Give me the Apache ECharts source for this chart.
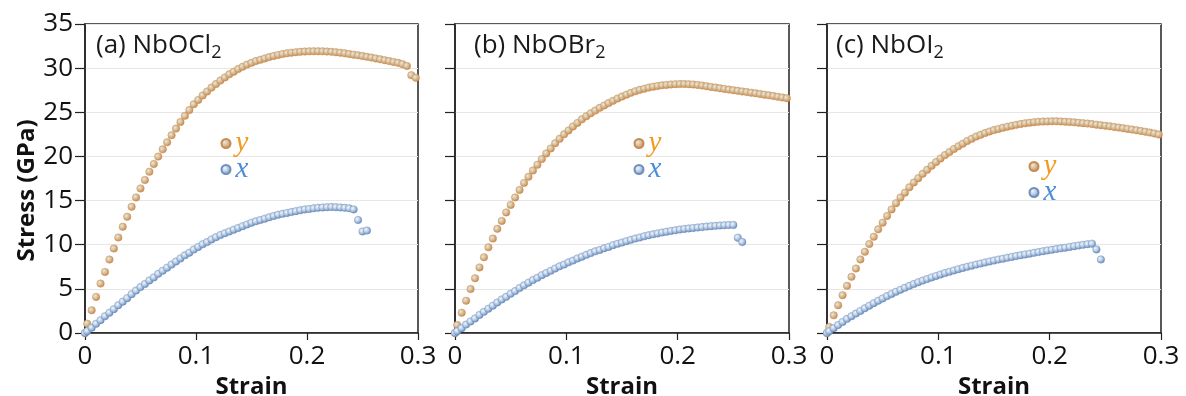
<!DOCTYPE html>
<html>
<head>
<meta charset="utf-8">
<script src="https://cdn.jsdelivr.net/npm/echarts@6/dist/echarts.min.js"></script>
<style>
html,body{margin:0;padding:0;background:#fff;}
#chart{width:1186px;height:396px;}
</style>
</head>
<body>
<div id="chart"></div>
<script>
// ---- data ----
const strain = [0, 0.002, 0.006, 0.010, 0.014, 0.018, 0.022, 0.026, 0.030, 0.034,
  0.038, 0.042, 0.046, 0.050, 0.054, 0.058, 0.062, 0.066, 0.070, 0.074,
  0.078, 0.082, 0.086, 0.090, 0.094, 0.098, 0.102, 0.106, 0.110, 0.114,
  0.118, 0.122, 0.126, 0.130, 0.134, 0.138, 0.142, 0.146, 0.150, 0.154,
  0.158, 0.162, 0.166, 0.170, 0.174, 0.178, 0.182, 0.186, 0.190, 0.194,
  0.198, 0.202, 0.206, 0.210, 0.214, 0.218, 0.222, 0.226, 0.230, 0.234,
  0.238, 0.242, 0.246, 0.250, 0.254, 0.258, 0.262, 0.266, 0.270, 0.274,
  0.278, 0.282, 0.286, 0.290, 0.294, 0.298];

// (a) NbOCl2
const aY = [0, 1.06, 2.57, 4.09, 5.6, 6.92, 8.32, 9.57, 10.82, 12.03,
  13.17, 14.3, 15.36, 16.38, 17.33, 18.27, 19.14, 19.98, 20.8, 21.6,
  22.4, 23.15, 23.9, 24.6, 25.25, 25.9, 26.4, 26.9, 27.35, 27.8,
  28.2, 28.6, 28.95, 29.3, 29.6, 29.9, 30.15, 30.4, 30.6, 30.8,
  30.95, 31.1, 31.25, 31.38, 31.5, 31.6, 31.68, 31.75, 31.8, 31.85,
  31.88, 31.9, 31.91, 31.91, 31.9, 31.88, 31.85, 31.8, 31.75, 31.68,
  31.6, 31.53, 31.45, 31.37, 31.28, 31.2, 31.1, 31.0, 30.9, 30.8,
  30.7, 30.6, 30.45, 30.25, 29.2, 28.9];
const aX = [0, 0.2, 0.6, 1.05, 1.45, 1.9, 2.3, 2.7, 3.15, 3.55,
  3.95, 4.4, 4.8, 5.2, 5.55, 5.95, 6.3, 6.7, 7.05, 7.4,
  7.75, 8.1, 8.45, 8.8, 9.1, 9.45, 9.75, 10.05, 10.3, 10.6,
  10.85, 11.1, 11.3, 11.5, 11.7, 11.9, 12.1, 12.3, 12.5, 12.65,
  12.8, 12.95, 13.1, 13.25, 13.4, 13.5, 13.6, 13.7, 13.8, 13.9,
  14.0, 14.05, 14.12, 14.18, 14.22, 14.25, 14.27, 14.25, 14.22, 14.18,
  14.12, 14.0, 12.8, 11.5, 11.6];

// (b) NbOBr2
const bY = [0, 0.9, 2.3, 3.66, 4.98, 6.2, 7.43, 8.57, 9.7, 10.7,
  11.8, 12.7, 13.66, 14.5, 15.36, 16.2, 17.0, 17.7, 18.4, 19.06,
  19.7, 20.34, 20.9, 21.5, 22.0, 22.5, 22.95, 23.4, 23.8, 24.2,
  24.55, 24.9, 25.2, 25.5, 25.78, 26.04, 26.3, 26.55, 26.78, 27.0,
  27.2, 27.38, 27.54, 27.68, 27.8, 27.9, 27.98, 28.05, 28.1, 28.15,
  28.18, 28.2, 28.2, 28.18, 28.15, 28.1, 28.03, 27.95, 27.87, 27.8,
  27.72, 27.65, 27.57, 27.5, 27.43, 27.36, 27.29, 27.22, 27.15, 27.07,
  27.0, 26.92, 26.84, 26.76, 26.68, 26.6];
const bX = [0, 0.2, 0.55, 0.95, 1.3, 1.65, 2.05, 2.4, 2.75, 3.1,
  3.45, 3.8, 4.1, 4.45, 4.75, 5.1, 5.4, 5.7, 6.0, 6.25,
  6.55, 6.8, 7.05, 7.3, 7.55, 7.75, 8.0, 8.2, 8.45, 8.65,
  8.85, 9.05, 9.25, 9.4, 9.6, 9.75, 9.95, 10.1, 10.25, 10.4,
  10.55, 10.7, 10.82, 10.95, 11.07, 11.18, 11.28, 11.38, 11.47, 11.56,
  11.64, 11.72, 11.79, 11.85, 11.9, 11.95, 12.0, 12.05, 12.1, 12.14,
  12.18, 12.21, 12.23, 12.24, 10.8, 10.3];

// (c) NbOI2
const cY = [0, 0.68, 2.0, 3.14, 4.28, 5.34, 6.36, 7.3, 8.33, 9.2,
  10.08, 10.9, 11.74, 12.5, 13.26, 14.0, 14.7, 15.34, 15.9, 16.5,
  17.05, 17.54, 18.03, 18.48, 18.94, 19.36, 19.77, 20.15, 20.5, 20.85,
  21.15, 21.45, 21.75, 22.0, 22.25, 22.45, 22.65, 22.82, 22.98, 23.12,
  23.25, 23.37, 23.48, 23.58, 23.67, 23.75, 23.82, 23.88, 23.92, 23.95,
  23.97, 23.98, 23.98, 23.96, 23.93, 23.9, 23.86, 23.82, 23.77, 23.72,
  23.66, 23.6, 23.54, 23.48, 23.41, 23.34, 23.27, 23.2, 23.12, 23.04,
  22.96, 22.88, 22.8, 22.7, 22.6, 22.48];
const cX = [0, 0.2, 0.55, 0.9, 1.25, 1.6, 1.9, 2.2, 2.5, 2.8,
  3.1, 3.38, 3.65, 3.92, 4.18, 4.43, 4.67, 4.9, 5.12, 5.34,
  5.55, 5.75, 5.94, 6.12, 6.3, 6.47, 6.63, 6.79, 6.94, 7.09,
  7.23, 7.37, 7.5, 7.63, 7.75, 7.87, 7.99, 8.1, 8.21, 8.32,
  8.42, 8.52, 8.62, 8.72, 8.81, 8.9, 8.99, 9.08, 9.17, 9.26,
  9.35, 9.43, 9.51, 9.59, 9.67, 9.75, 9.83, 9.91, 9.99, 10.06,
  10.12, 9.47, 8.33];

const panelLabels = ['(a) NbOCl', '(b) NbOBr', '(c) NbOI'];
const xTickLabels = ['0', '0.1', '0.2', '0.3'];
const yTickLabels = ['0', '5', '10', '15', '20', '25', '30', '35'];
const seriesNames = ['y', 'x'];

// ---- layout / style ----
const grids = [
  {left: 85, top: 24, width: 333, height: 309},
  {left: 455, top: 24, width: 334, height: 309},
  {left: 827, top: 24, width: 334, height: 309}
];
const titlePos = [[96, 31], [474, 31], [836, 31]];
// legend marker centre positions (x, first-row y)
const legendPos = [[225, 143], [638, 143], [1033, 166]];

const orangeBall = {type: 'radial', x: 0.38, y: 0.38, r: 0.65,
  colorStops: [{offset: 0, color: '#eee6d6'}, {offset: 0.5, color: '#d2bc98'}, {offset: 1, color: '#d0813c'}]};
const blueBall = {type: 'radial', x: 0.38, y: 0.38, r: 0.65,
  colorStops: [{offset: 0, color: '#f2f6fb'}, {offset: 0.5, color: '#b5c9e2'}, {offset: 1, color: '#5d84b9'}]};

function pairs(vals) {
  return vals.map((v, i) => [strain[i], v]);
}

const panels = [[aY, aX], [bY, bX], [cY, cX]];
const series = [];
panels.forEach((p, g) => {
  series.push({
    name: 'y', type: 'scatter', xAxisIndex: g, yAxisIndex: g,
    symbolSize: 7.5, data: pairs(p[0]),
    itemStyle: {color: orangeBall, borderColor: '#c98a52', borderWidth: 0.4, opacity: 1}
  });
  series.push({
    name: 'x', type: 'scatter', xAxisIndex: g, yAxisIndex: g,
    symbolSize: 7.5, data: pairs(p[1]),
    itemStyle: {color: blueBall, borderColor: '#6f8fbd', borderWidth: 0.4, opacity: 1}
  });
});

const font = "'Open Sans', 'Noto Sans', sans-serif";

const option = {
  animation: false,
  backgroundColor: '#ffffff',
  grid: grids.map(g => Object.assign({show: true, borderColor: '#222', borderWidth: 1.5,
    backgroundColor: 'transparent', containLabel: false, outerBoundsMode: 'none'}, g)),
  title: panelLabels.map((t, i) => ({
    text: t + '{s|2}',
    left: titlePos[i][0], top: titlePos[i][1], padding: 0,
    textStyle: {
      fontFamily: font, fontSize: 26, fontWeight: 'normal', color: '#1a1a1a', lineHeight: 30,
      rich: {s: {fontFamily: font, fontSize: 18, color: '#1a1a1a', padding: [13, 0, 0, 0]}}
    }
  })),
  legend: legendPos.map(p => ({
    left: p[0] - 4.5, top: p[1] - 14, orient: 'vertical', itemGap: -3, padding: 0,
    itemWidth: 9, itemHeight: 9, icon: 'circle', selectedMode: false,
    data: [
      {name: seriesNames[0], textStyle: {color: '#f39a1e'}},
      {name: seriesNames[1], textStyle: {color: '#4c8dd6'}}
    ],
    textStyle: {fontFamily: "'Liberation Serif', serif", fontStyle: 'italic', fontSize: 29}
  })),
  xAxis: grids.map((g, i) => ({
    gridIndex: i, type: 'value', min: 0, max: 0.3, interval: 0.1,
    name: 'Strain', nameLocation: 'middle', nameGap: 34,
    nameTextStyle: {fontFamily: font, fontSize: 24, fontWeight: 'bold', color: '#111'},
    axisLine: {show: true, lineStyle: {color: '#222', width: 1.5}},
    axisTick: {show: true, inside: false, length: 7, lineStyle: {color: '#222', width: 1.2}},
    axisLabel: {margin: 11, fontFamily: font, fontSize: 26, color: '#111',
      formatter: v => xTickLabels[Math.round(v * 10)]},
    splitLine: {show: false}
  })),
  yAxis: grids.map((g, i) => ({
    gridIndex: i, type: 'value', min: 0, max: 35, interval: 5,
    name: i === 0 ? 'Stress (GPa)' : '', nameLocation: 'middle', nameGap: 46,
    nameTextStyle: {fontFamily: font, fontSize: 24, fontWeight: 'bold', color: '#111', padding: [0, 24, 0, 0]},
    axisLine: {show: true, lineStyle: {color: '#222', width: 1.5}},
    axisTick: {show: true, inside: false, length: 10, lineStyle: {color: '#222', width: 1.2}},
    axisLabel: {show: i === 0, margin: 12, fontFamily: font, fontSize: 26, color: '#111',
      formatter: v => yTickLabels[Math.round(v / 5)]},
    splitLine: {show: true, lineStyle: {color: '#e6e6e6', width: 1}}
  })),
  series: series
};

const chart = echarts.init(document.getElementById('chart'), null, {renderer: 'canvas'});
chart.setOption(option);
</script>
</body>
</html>
